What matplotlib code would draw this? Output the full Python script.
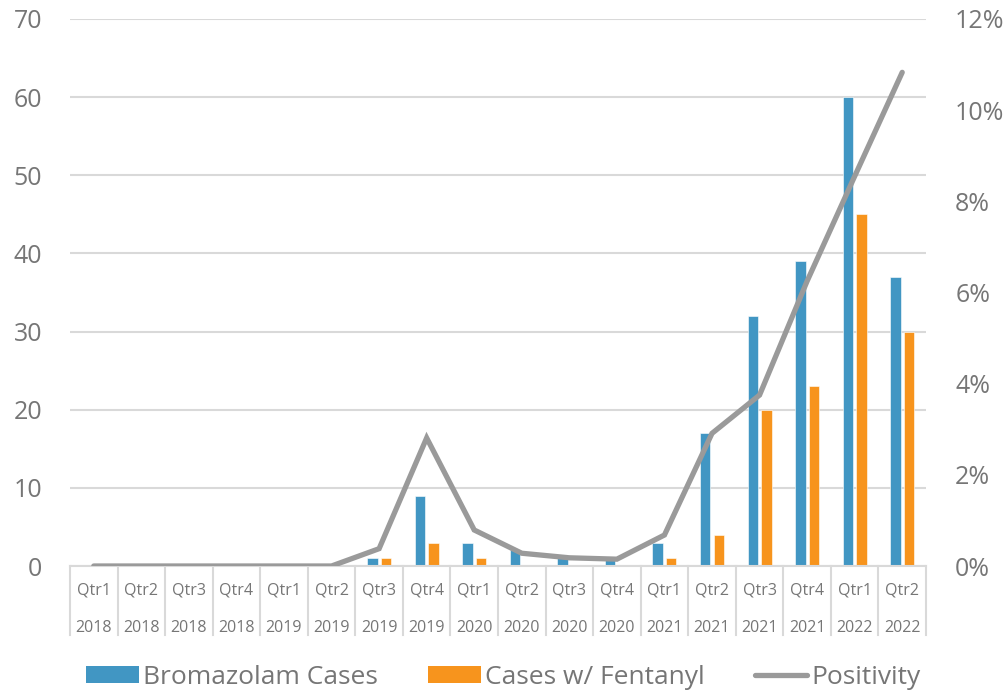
import matplotlib
matplotlib.use("Agg")
import matplotlib.pyplot as plt
import numpy as np
from matplotlib.patches import Patch
from matplotlib.lines import Line2D
from matplotlib.ticker import FuncFormatter, MultipleLocator

# Quarterly case counts and positivity rate
quarters = ["Qtr1", "Qtr2", "Qtr3", "Qtr4", "Qtr1", "Qtr2", "Qtr3", "Qtr4", "Qtr1",
            "Qtr2", "Qtr3", "Qtr4", "Qtr1", "Qtr2", "Qtr3", "Qtr4", "Qtr1", "Qtr2"]
years = ["2018", "2018", "2018", "2018", "2019", "2019", "2019", "2019", "2020",
         "2020", "2020", "2020", "2021", "2021", "2021", "2021", "2022", "2022"]
bromazolam_cases = [0, 0, 0, 0, 0, 0, 1, 9, 3, 2, 1, 1, 3, 17, 32, 39, 60, 37]
fentanyl_cases = [0, 0, 0, 0, 0, 0, 1, 3, 1, 0, 0, 0, 1, 4, 20, 23, 45, 30]
positivity = [0.0, 0.0, 0.0, 0.0, 0.0, 0.0, 0.38, 2.81, 0.79, 0.28, 0.18, 0.15,
              0.68, 2.91, 3.75, 6.25, 8.55, 10.83]

BLUE = "#4196c3"
ORANGE = "#f7941d"
GRAY_LINE = "#9a9a9a"
GRID = "#d9d9d9"
TEXT = "#767676"

plt.rcParams["font.family"] = ["Open Sans", "DejaVu Sans"]

fig = plt.figure(figsize=(10.07, 6.91), dpi=100)
ax = fig.add_axes([70 / 1007, 1 - 566 / 691, (926 - 70) / 1007, (566 - 19) / 691])

x = np.arange(len(quarters))
bw = 0.22
off = 0.142
ax.bar(x - off, bromazolam_cases, width=bw, color=BLUE, edgecolor="white", linewidth=0.4, zorder=2)
ax.bar(x + off, fentanyl_cases, width=bw, color=ORANGE, edgecolor="white", linewidth=0.4, zorder=2)

ax.set_xlim(-0.5, len(quarters) - 0.5)
ax.set_ylim(0, 70)
ax.yaxis.set_major_locator(MultipleLocator(10))
ax.grid(axis="y", color=GRID, linewidth=1.5, zorder=0)
ax.set_axisbelow(True)
for s in ["top", "right", "left"]:
    ax.spines[s].set_visible(False)
ax.spines["bottom"].set_color(GRID)
ax.spines["bottom"].set_linewidth(1.5)
ax.set_xticks([])
ax.tick_params(axis="y", length=0, pad=20, labelsize=18, labelcolor=TEXT)

# Two-level category axis
trans = ax.get_xaxis_transform()
for b in np.arange(-0.5, len(quarters), 1.0):
    ax.plot([b, b], [0, -0.126], transform=trans, color=GRID, linewidth=1.5, clip_on=False)
for i, (q, yr) in enumerate(zip(quarters, years)):
    ax.text(i, -0.044, q, transform=trans, ha="center", va="center", fontsize=11.5, color=TEXT)
    ax.text(i, -0.113, yr, transform=trans, ha="center", va="center", fontsize=11.5, color=TEXT)

ax2 = ax.twinx()
ax2.plot(x, np.array(positivity) / 100, color=GRAY_LINE, linewidth=3.8,
         solid_capstyle="round", solid_joinstyle="miter", zorder=3)
ax2.set_ylim(0, 0.12)
ax2.yaxis.set_major_locator(MultipleLocator(0.02))
ax2.yaxis.set_major_formatter(FuncFormatter(lambda v, p: f"{v * 100:.0f}%"))
ax2.tick_params(axis="y", length=0, pad=21, labelsize=18, labelcolor=TEXT)
for s in ax2.spines.values():
    s.set_visible(False)

handles = [
    Patch(facecolor=BLUE, edgecolor="none"),
    Patch(facecolor=ORANGE, edgecolor="none"),
    Line2D([0], [0], color=GRAY_LINE, linewidth=3.8, solid_capstyle="round"),
]
labels = ["Bromazolam Cases", "Cases w/ Fentanyl", "Positivity"]
fig.legend(handles, labels, loc="center", bbox_to_anchor=(0.5, 1 - 677 / 691), ncol=3,
           frameon=False, fontsize=19, labelcolor=TEXT, handlelength=2.0, handleheight=0.6,
           handletextpad=0.15, columnspacing=1.9)

fig.savefig("out.png", dpi=100)
